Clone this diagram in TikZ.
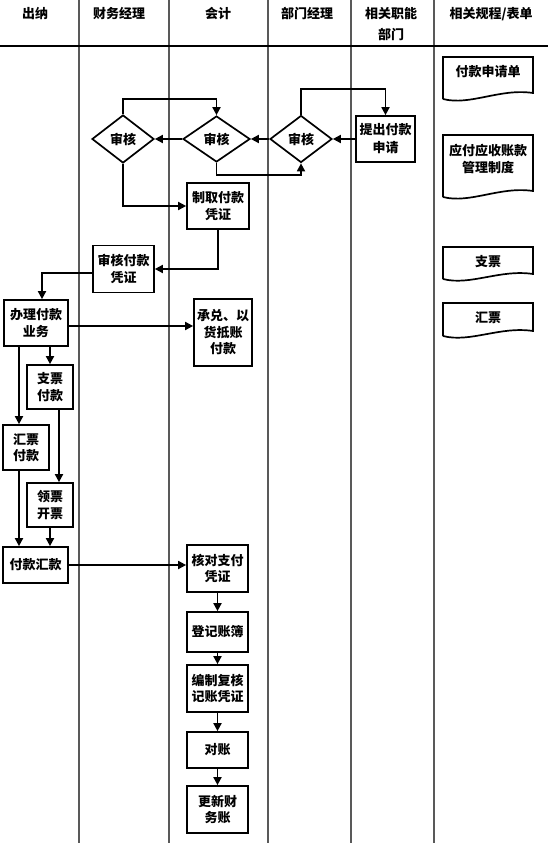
\documentclass[tikz,border=0pt]{standalone}
\usepackage{fontspec}
\setmainfont{Noto Sans CJK SC}
\usetikzlibrary{shapes.geometric,arrows.meta,calc}
\begin{document}
\begin{tikzpicture}[x=1pt,y=-1pt,
  txt/.style={font=\fontsize{13}{16.5}\selectfont\bfseries},
  hdr/.style={font=\fontsize{13}{21}\selectfont\bfseries,align=center},
  box/.style={txt,draw,line width=1.7pt,rectangle,align=center,inner sep=1pt},
  dia/.style={txt,draw,line width=1.7pt,diamond,inner sep=0pt,aspect=1.3},
  arr/.style={line width=1.7pt,-{Triangle[length=8pt,width=8pt]}},
  lane/.style={line width=1.4pt,draw=black!65},
  docshape/.style={line width=1.7pt,draw=black}
]
\useasboundingbox (0,0) rectangle (548,843);
% lanes
\draw[lane] (79,0) -- (79,843);
\draw[lane] (169,0) -- (169,843);
\draw[lane] (268,0) -- (268,843);
\draw[lane] (351,0) -- (351,843);
\draw[lane] (434,0) -- (434,843);
\draw[line width=2pt] (0,46) -- (548,46);
% headers
\node[hdr] (h1) at (35,14) {出纳};
\node[hdr] (h2) at (119,14) {财务经理};
\node[hdr] (h3) at (218,14) {会计};
\node[hdr] (h4) at (307,14) {部门经理};
\node[hdr] (h5) at (391,24) {相关职能\\部门};
\node[hdr] (h6) at (491,14) {相关规程/表单};

% nodes
\node[box,minimum width=59pt,minimum height=46pt,font=\fontsize{13}{18}\selectfont\bfseries] (req) at (385.5,139) {提出付款\\申请};
\node[dia,minimum width=62pt,minimum height=47pt] (d3) at (301,139) {审核};
\node[dia,minimum width=67pt,minimum height=46pt] (d2) at (216.5,139) {审核};
\node[dia,minimum width=62pt,minimum height=48pt] (d1) at (123,139) {审核};
\node[box,minimum width=62pt,minimum height=46pt] (zq) at (218,206) {制取付款\\凭证};
\node[box,minimum width=61pt,minimum height=47pt] (sh) at (123.5,269) {审核付款\\凭证};
\node[box,minimum width=64pt,minimum height=46pt] (bl) at (36,323) {办理付款\\业务};
\node[box,minimum width=58pt,minimum height=67pt] (cd) at (223,332.5) {承兑、以\\货抵账\\付款};
\node[box,minimum width=46pt,minimum height=44pt] (zp) at (50,387) {支票\\付款};
\node[box,minimum width=46pt,minimum height=45pt] (hp) at (26,447.5) {汇票\\付款};
\node[box,minimum width=46pt,minimum height=44pt] (lp) at (50,505) {领票\\开票};
\node[box,minimum width=65pt,minimum height=36pt] (fk) at (35.5,565) {付款汇款};
\node[box,minimum width=61pt,minimum height=47pt] (hd) at (217.5,568.5) {核对支付\\凭证};
\node[box,minimum width=61pt,minimum height=40pt] (dj) at (217.5,632) {登记账簿};
\node[box,minimum width=61pt,minimum height=47pt] (bz) at (217.5,688.5) {编制复核\\记账凭证};
\node[box,minimum width=61pt,minimum height=36pt] (dz) at (217.5,750) {对账};
\node[box,minimum width=61pt,minimum height=47pt] (gx) at (217.5,809.5) {更新财\\务账};

% documents
\draw[docshape] (443,99) -- (443,57) -- (533,57) -- (533,93) .. controls (500,88) and (470,106) .. (443,99);
\node[txt] (doc1) at (488,72) {付款申请单};
\draw[docshape] (443,197) -- (443,135) -- (533,135) -- (533,191) .. controls (500,186) and (470,204) .. (443,197);
\node[txt,align=center,font=\fontsize{13}{17}\selectfont\bfseries] (doc2) at (488,158.5) {应付应收账款\\管理制度};
\draw[docshape] (443,279) -- (443,247) -- (533,247) -- (533,274) .. controls (500,269) and (470,286) .. (443,279);
\node[txt] (doc3) at (488,262) {支票};
\draw[docshape] (443,336) -- (443,303) -- (533,303) -- (533,331) .. controls (500,326) and (470,343) .. (443,336);
\node[txt] (doc4) at (488,318) {汇票};

% connectors
\draw[arr] (req.west) -- (d3.east);
\draw[arr] (d3.west) -- (d2.east);
\draw[arr] (d2.west) -- (d1.east);
\draw[arr] (d3.north) -- (d3.north |- 0,89) -| (req.north);
\draw[arr] (d2.south) -- (d2.south |- 0,175) -| (d3.south);
\draw[arr] (d1.north) -- (d1.north |- 0,99) -| (d2.north);
\draw[arr] (d1.south) |- (zq.west);
\draw[arr] (zq.south) |- (sh.east);
\coordinate (c1) at ($(sh.west)+(0,4)$);
\coordinate (c2) at (42,300);
\draw[arr] (c1) -| (bl.north -| c2) ;
\coordinate (c3) at ($(bl.east)+(0,3)$);
\draw[arr] (c3) -- (c3 -| cd.west);
\draw[arr] (bl.south -| zp.north) -- (zp.north);
\coordinate (xa) at (19,0);
\coordinate (xb) at (59,0);
\draw[arr] (bl.south -| xa) -- (hp.north -| xa);
\draw[arr] (zp.south -| xb) -- (lp.north -| xb);
\draw[arr] (hp.south -| xa) -- (fk.north -| xa);
\draw[arr] (lp.south) -- (fk.north -| lp.south);
\draw[arr] (fk.east) -- (fk.east -| hd.west);
\draw[arr] (hd) -- (dj);
\draw[arr] (dj) -- (bz);
\draw[arr] (bz) -- (dz);
\draw[arr] (dz) -- (gx);
\end{tikzpicture}
\end{document}
